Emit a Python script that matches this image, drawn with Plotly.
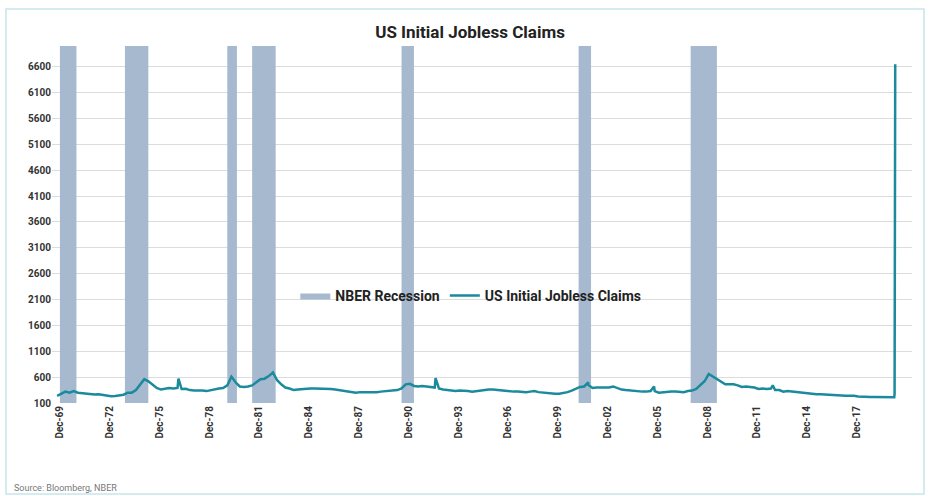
import pandas as pd
import plotly.graph_objects as go

# Weekly initial jobless claims (thousands), sampled quarterly 1969Q4-2019Q4
quarter_starts = pd.date_range("1969-10-01", "2019-10-01", freq="QS")
claims_quarterly = [
    240,
    280, 320, 300, 330,   # 1970
    300, 290, 290, 280,   # 1971
    265, 270, 255, 245,   # 1972
    230, 235, 245, 260,   # 1973
    300, 300, 350, 450,   # 1974
    560, 520, 450, 390,   # 1975
    360, 380, 390, 380,   # 1976
    390, 370, 375, 350,   # 1977
    340, 345, 340, 330,   # 1978
    350, 360, 380, 390,   # 1979
    440, 610, 500, 420,   # 1980
    410, 420, 440, 500,   # 1981
    560, 570, 620, 690,   # 1982
    540, 460, 400, 380,   # 1983
    350, 360, 370, 380,   # 1984
    380, 380, 380, 370,   # 1985
    370, 370, 360, 350,   # 1986
    340, 330, 310, 300,   # 1987
    310, 310, 310, 300,   # 1988
    310, 320, 330, 340,   # 1989
    340, 350, 380, 460,   # 1990
    470, 430, 420, 430,   # 1991
    420, 410, 400, 380,   # 1992
    360, 350, 340, 330,   # 1993
    340, 340, 330, 320,   # 1994
    330, 350, 360, 360,   # 1995
    360, 350, 340, 340,   # 1996
    320, 320, 320, 310,   # 1997
    310, 320, 330, 310,   # 1998
    300, 290, 280, 280,   # 1999
    280, 290, 310, 340,   # 2000
    380, 410, 420, 450,   # 2001
    390, 400, 400, 390,   # 2002
    400, 420, 390, 360,   # 2003
    350, 340, 340, 330,   # 2004
    320, 320, 330, 330,   # 2005
    300, 310, 320, 320,   # 2006
    320, 310, 310, 330,   # 2007
    340, 370, 440, 520,   # 2008
    660, 610, 560, 500,   # 2009
    460, 460, 460, 440,   # 2010
    410, 420, 410, 400,   # 2011
    370, 380, 370, 380,   # 2012
    350, 350, 320, 330,   # 2013
    320, 310, 300, 290,   # 2014
    290, 280, 270, 270,   # 2015
    260, 260, 255, 255,   # 2016
    245, 240, 245, 240,   # 2017
    225, 220, 210, 215,   # 2018
    215, 215, 212, 215,   # 2019
]

# One-off weekly spikes and the March 2020 surge
spike_dates = ["1977-01-22", "1992-07-18", "2001-09-29", "2005-09-17",
               "2012-11-10", "2020-01-18", "2020-02-15", "2020-03-07",
               "2020-03-14", "2020-03-21", "2020-03-28"]
spike_claims = [570, 580, 500, 420, 440, 215, 212, 211, 282, 3307, 6648]

# NBER recession periods
recession_starts = ["1969-12-01", "1973-11-01", "1980-01-01", "1981-07-01",
                    "1990-07-01", "2001-03-01", "2007-12-01"]
recession_ends = ["1970-11-30", "1975-03-31", "1980-07-31", "1982-11-30",
                  "1991-03-31", "2001-11-30", "2009-06-30"]

tick_dates = [f"{y}-12-01" for y in range(1969, 2018, 3)]
tick_labels = [f"Dec-{str(y)[2:]}" for y in range(1969, 2018, 3)]
y_ticks = list(range(100, 6601, 500))

Y_MIN, Y_MAX = 100, 7000

series = pd.concat([
    pd.Series(claims_quarterly, index=quarter_starts),
    pd.Series(spike_claims, index=pd.to_datetime(spike_dates)),
]).sort_index()

# Recession shading as filled rectangles in data coordinates
rx, ry = [], []
for s, e in zip(recession_starts, recession_ends):
    rx += [s, s, e, e, s, None]
    ry += [Y_MIN, Y_MAX, Y_MAX, Y_MIN, Y_MIN, None]

fig = go.Figure()
fig.add_trace(go.Scatter(
    x=rx, y=ry, fill="toself", mode="lines",
    line=dict(width=0, color="#a6b9cf"), fillcolor="#a6b9cf",
    name="NBER Recession", hoverinfo="skip",
))
fig.add_trace(go.Scatter(
    x=series.index, y=series.values, mode="lines",
    line=dict(color="#1a8a9c", width=2.5),
    name="US Initial Jobless Claims",
))

fig.update_layout(
    width=929, height=496,
    margin=dict(l=52, r=17, t=46, b=93),
    paper_bgcolor="white", plot_bgcolor="white",
    font=dict(family="Roboto, Open Sans, sans-serif", color="#333333"),
    title=dict(text="<b>US Initial Jobless Claims</b>", x=0.506, xanchor="center",
               y=0.935, yanchor="middle", font=dict(size=17, color="#222222")),
    showlegend=True,
    legend=dict(orientation="h", x=0.487, xanchor="center", y=0.30, yanchor="middle",
                bgcolor="rgba(0,0,0,0)", font=dict(size=14, color="#222222", weight="bold"),
                itemwidth=30, traceorder="normal"),
    xaxis=dict(
        type="date", range=["1969-06-10", "2021-04-01"],
        tickvals=tick_dates, ticktext=tick_labels, tickangle=-90,
        tickfont=dict(size=10, weight="bold", color="#333333"),
        showgrid=False, zeroline=False, showline=False, ticks="",
    ),
    yaxis=dict(
        range=[Y_MIN, Y_MAX], tickvals=y_ticks,
        tickfont=dict(size=10, weight="bold", color="#333333"),
        showgrid=True, gridcolor="#dcdcdc", gridwidth=1,
        zeroline=False, showline=False, ticks="",
    ),
    shapes=[dict(type="rect", xref="paper", yref="paper",
                 x0=-0.0535, x1=1.014, y0=-0.255, y1=1.1036,
                 line=dict(color="#c6e6ea", width=1.5), fillcolor="rgba(0,0,0,0)",
                 layer="below")],
    annotations=[dict(text="Source: Bloomberg, NBER", xref="paper", yref="paper",
                      x=-0.047, y=-0.238, xanchor="left", yanchor="middle",
                      showarrow=False, font=dict(size=9, color="#777777"))],
)

fig.write_html("out.html")
